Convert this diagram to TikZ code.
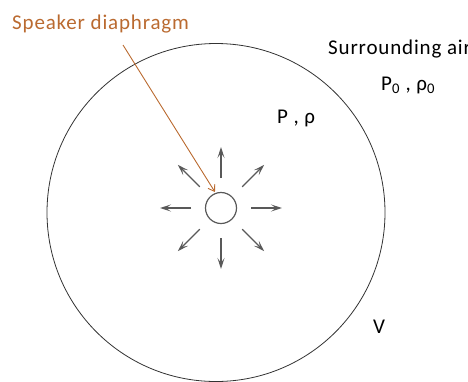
\documentclass[tikz,border=0pt]{standalone}
\usepackage{fontspec}
\setmainfont{Carlito}[LetterSpace=4]
\usetikzlibrary{arrows.meta,calc}
\definecolor{callbrown}{RGB}{186,106,48}
\tikzset{
  vol/.style={circle,draw=black!80,line width=0.8pt,minimum size=338pt,
    inner sep=0pt},
  spkr/.style={circle,draw=black!65,line width=1.2pt,minimum size=31pt,
    inner sep=0pt},
  wave/.style={-{Stealth[length=11pt,width=7pt,inset=5pt]},black!65,
    line width=1.3pt},
  callout/.style={-{Straight Barb[length=6pt,width=8pt]},callbrown,
    line width=0.9pt,shorten >=1pt},
  lbl/.style={font=\fontsize{21}{23}\selectfont,inner sep=0pt,
    anchor=base west},
}
\begin{document}
\begin{tikzpicture}[x=1pt,y=-1pt]
  \useasboundingbox (0,0) rectangle (468,381);
  \node[vol] (vol) at (216,212.5) {};
  \node[spkr] (spk) at (221,208) {};
  % radiating waves
  \foreach \a in {0,45,...,315}{
    \coordinate (in\a) at ($(spk.center)+(\a:30)$);
    \coordinate (out\a) at ($(spk.center)+(\a:61)$);
    \draw[wave] (in\a) -- (out\a);
  }
  \node[lbl,text=callbrown] (spklbl) at (12,29) {Speaker diaphragm};
  \coordinate (tail) at (123,45);
  \draw[callout] (tail) -- (spk.110);
  \node[lbl] (air) at (328,54) {Surrounding air};
  \node[lbl] (amb) at (381,90) {P\textsubscript{0} , ρ\textsubscript{0}};
  \node[lbl] (inside) at (277,123) {P , ρ};
  \node[lbl] (vlbl) at (373,333) {V};
\end{tikzpicture}
\end{document}
